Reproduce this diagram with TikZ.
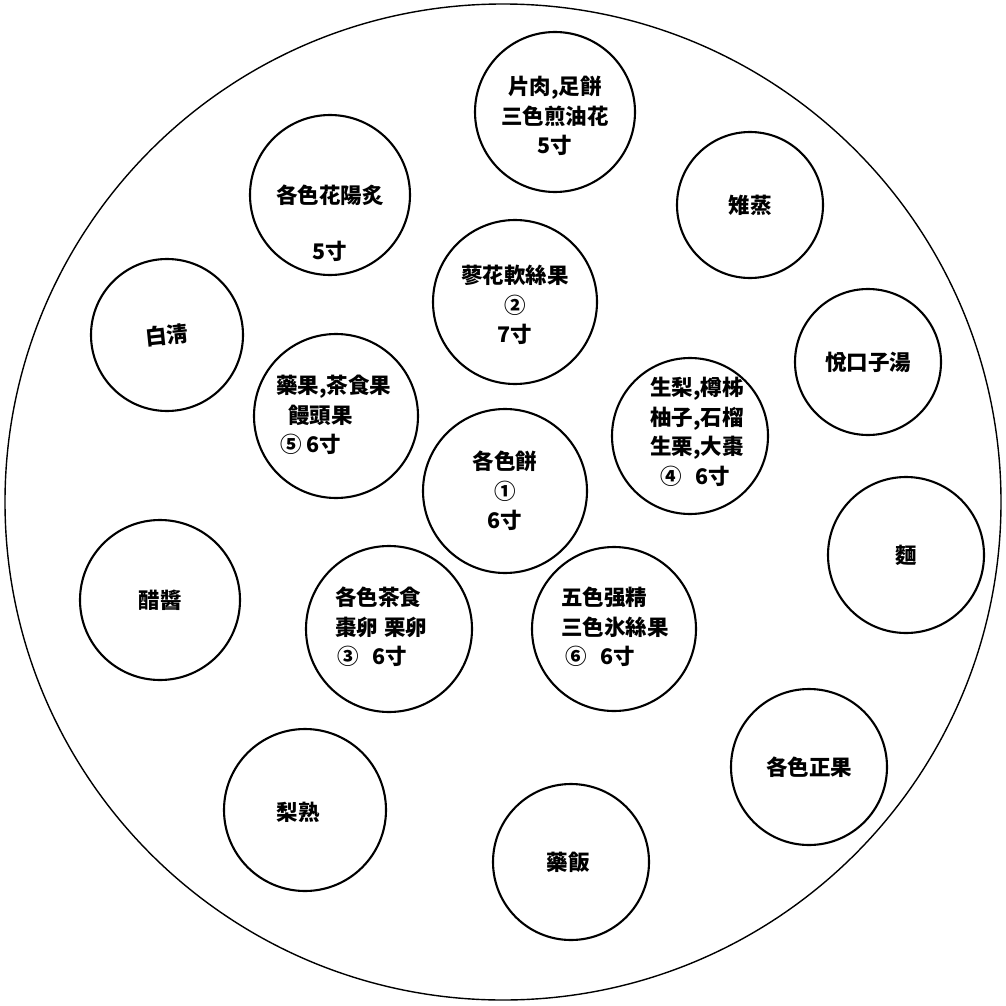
\documentclass[tikz,border=0pt]{standalone}
\usepackage{fontspec}
\newfontfamily\cjk{Noto Sans CJK KR}
\begin{document}
\begin{tikzpicture}[x=1pt,y=-1pt,
  plate/.style={draw,circle,line width=2.1pt,inner sep=0pt},
  lbl/.style={font=\cjk\bfseries\fontsize{21.5}{29.5}\selectfont,align=center,inner sep=0pt},
  lbll/.style={font=\cjk\bfseries\fontsize{21.5}{29.5}\selectfont,align=left,inner sep=0pt,anchor=west}]
\useasboundingbox (0,0) rectangle (1006,1006);
\node[draw,circle,line width=1.4pt,minimum size=996pt,inner sep=0pt] (table) at (503,502) {};
% dishes
\node[plate,minimum size=160pt] (c1) at (555,112) {};
\node[plate,minimum size=160pt] (c2) at (330,195) {};
\node[plate,minimum size=146pt] (c3) at (750,205) {};
\node[plate,minimum size=164pt] (c4) at (515,302) {};
\node[plate,minimum size=152pt] (c5) at (167,335) {};
\node[plate,minimum size=146pt] (c6) at (868,362) {};
\node[plate,minimum size=164pt] (c7) at (336,416) {};
\node[plate,minimum size=156pt] (c8) at (690,436) {};
\node[plate,minimum size=164pt] (c9) at (505,491) {};
\node[plate,minimum size=156pt] (c10) at (906,555) {};
\node[plate,minimum size=160pt] (c11) at (160,600) {};
\node[plate,minimum size=166pt] (c12) at (389,629) {};
\node[plate,minimum size=164pt] (c13) at (614,629) {};
\node[plate,minimum size=156pt] (c14) at (809,767) {};
\node[plate,minimum size=162pt] (c15) at (305,810) {};
\node[plate,minimum size=156pt] (c16) at (571,862) {};
% labels
\node[lbl] (t1) at (c1) [yshift=-4pt] {片肉,足餅\\三色煎油花\\5寸};
\node[lbl] (t2) at (c2) [yshift=-28pt] {各色花陽炙\\[26pt]5寸};
\node[lbl] (t3) at (c3) {雉蒸};
\node[lbl] (t4) at (c4) [yshift=-3pt] {蓼花軟絲果\\②\\7寸};
\node[lbl,rotate=6] (t5) at (c5) {白淸};
\node[lbl] (t6) at (c6) {悅口子湯};
\node[lbll] (t7) at (276,415) {藥果,茶食果\\\hspace{12pt}饅頭果\\\hspace{4pt}⑤ 6寸};
\node[lbll] (t8) at (650,432) {生梨,樽柹\\柚子,石榴\\生栗,大棗\\\hspace{10pt}④\hspace{14pt}6寸};
\node[lbl] (t9) at (c9) {各色餅\\①\\6寸};
\node[lbl] (t10) at (c10) {麵};
\node[lbl] (t11) at (c11) {醋醬};
\node[lbll] (t12) at (335,627) {各色茶食\\棗卵\hspace{6pt}栗卵\\\hspace{2pt}③\hspace{14pt}6寸};
\node[lbll] (t13) at (561,627) {五色强精\\三色氷絲果\\\hspace{4pt}⑥\hspace{14pt}6寸};
\node[lbl] (t14) at (c14) {各色正果};
\node[lbl] (t15) at (298,812) {梨熟};
\node[lbl] (t16) at (568,862) {藥飯};
\end{tikzpicture}
\end{document}
